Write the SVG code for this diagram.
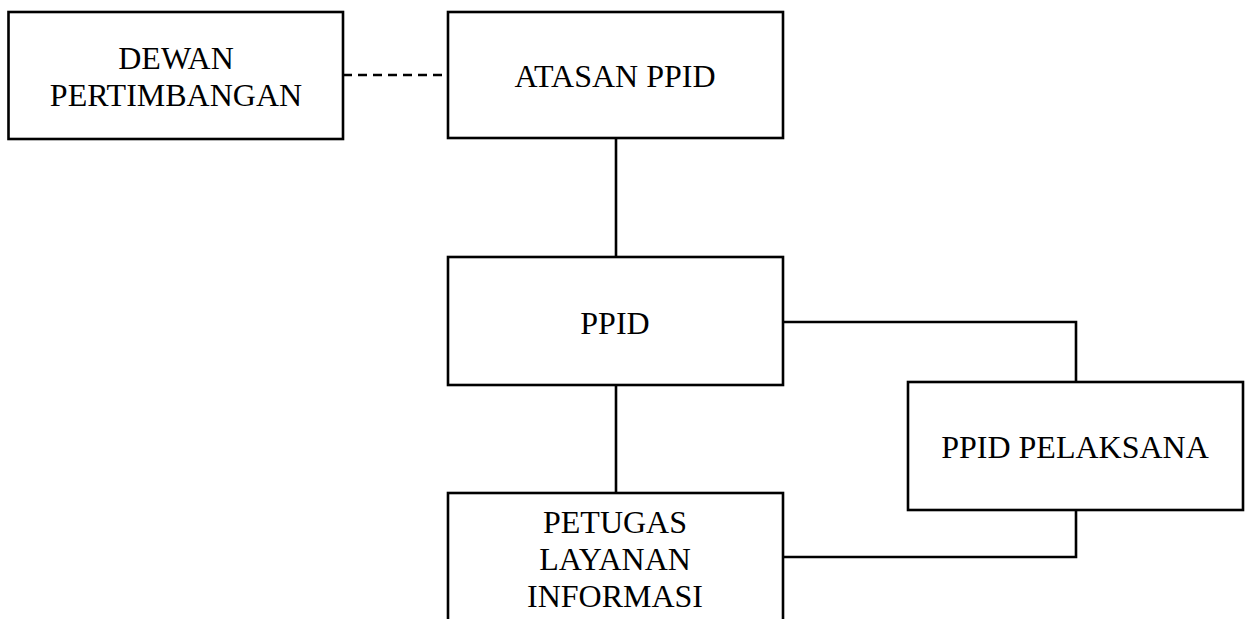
<svg xmlns="http://www.w3.org/2000/svg" width="1249" height="619" viewBox="0 0 1249 619">
<style>
.box{fill:#fff;stroke:#000;stroke-width:2.6}
.ln{fill:none;stroke:#000;stroke-width:2.6}
.dash{stroke-dasharray:9 6}
text{font-family:"Liberation Serif","Times New Roman",serif;font-size:32px;fill:#000;text-anchor:middle}
</style>
<rect width="1249" height="619" fill="#fff"/>
<g id="connectors">
<line class="ln dash" x1="343" y1="75" x2="448" y2="75"/>
<line class="ln" x1="616" y1="138" x2="616" y2="257"/>
<line class="ln" x1="616" y1="385" x2="616" y2="493"/>
<polyline class="ln" points="783,322 1076,322 1076,382"/>
<polyline class="ln" points="1076,510 1076,557 783,557"/>
</g>
<g id="dewan">
<rect class="box" x="8.5" y="12" width="334.5" height="127"/>
<text x="176" y="69">DEWAN</text>
<text x="176" y="106">PERTIMBANGAN</text>
</g>
<g id="atasan">
<rect class="box" x="448" y="12" width="335" height="126"/>
<text x="615" y="87">ATASAN PPID</text>
</g>
<g id="ppid">
<rect class="box" x="448" y="257" width="335" height="128"/>
<text x="615" y="334">PPID</text>
</g>
<g id="pelaksana">
<rect class="box" x="908" y="382" width="335" height="128"/>
<text x="1075" y="458">PPID PELAKSANA</text>
</g>
<g id="petugas">
<rect class="box" x="448" y="493" width="335" height="140"/>
<text x="615" y="533">PETUGAS</text>
<text x="615" y="570">LAYANAN</text>
<text x="615" y="607">INFORMASI</text>
</g>
</svg>
